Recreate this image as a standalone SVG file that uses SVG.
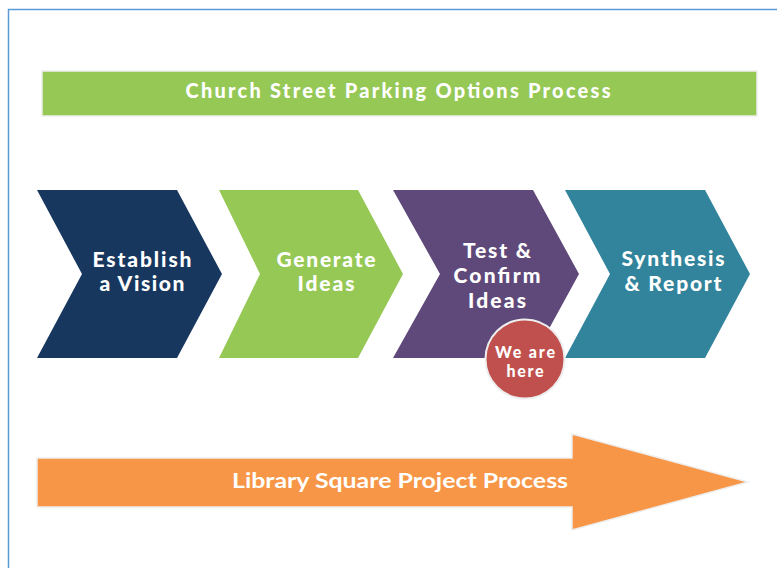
<svg xmlns="http://www.w3.org/2000/svg" width="777" height="568" viewBox="0 0 777 568">
<style>
.t{font-family:Lato,"Open Sans","Liberation Sans",sans-serif;font-weight:900;fill:#fff;text-anchor:middle}
.s{font-size:21px}
.h{font-size:20px}
.c{font-size:16px}
.l{font-size:21px;font-weight:bold}
</style>
<rect width="777" height="568" fill="#fff"/>
<path d="M8.5,568 V9.5 H777" fill="none" stroke="#5B9BD5" stroke-width="1.5"/>
<g id="title">
<rect x="42" y="71" width="715" height="45" fill="#95C855" stroke="#EEEEEE" stroke-width="1.5"/>
<text class="t h" x="398" y="98" textLength="425" lengthAdjust="spacing">Church Street Parking Options Process</text>
</g>
<g id="step1">
<polygon points="37,190 177,190 222,274 177,358 37,358 82,274" fill="#17375E"/>
<text class="t s" x="142" y="267" textLength="99" lengthAdjust="spacing">Establish</text>
<text class="t s" x="142" y="291" textLength="85" lengthAdjust="spacing">a Vision</text>
</g>
<g id="step2">
<polygon points="219,190 358,190 403,274 358,358 219,358 260,274" fill="#95C855"/>
<text class="t s" x="326" y="267" textLength="99" lengthAdjust="spacing">Generate</text>
<text class="t s" x="326" y="291" textLength="57" lengthAdjust="spacing">Ideas</text>
</g>
<g id="step3">
<polygon points="393,190 533,190 579,274 533,358 393,358 440,274" fill="#5F497A"/>
<text class="t s" x="497" y="258" textLength="68" lengthAdjust="spacing">Test &amp;</text>
<text class="t s" x="497" y="283" textLength="87" lengthAdjust="spacing">Confirm</text>
<text class="t s" x="497" y="308" textLength="58" lengthAdjust="spacing">Ideas</text>
</g>
<g id="step4">
<polygon points="565,190 705,190 750,274 705,358 565,358 610,274" fill="#31849B"/>
<text class="t s" x="673" y="266" textLength="103" lengthAdjust="spacing">Synthesis</text>
<text class="t s" x="673" y="291" textLength="97" lengthAdjust="spacing">&amp; Report</text>
</g>
<g id="marker">
<circle cx="525" cy="359" r="39.5" fill="#C0504D" stroke="#EEEEEE" stroke-width="2"/>
<text class="t c" x="525" y="358" textLength="60" lengthAdjust="spacing">We are</text>
<text class="t c" x="525" y="377" textLength="37" lengthAdjust="spacing">here</text>
</g>
<g id="library">
<polygon points="37,458 572,458 572,434 748,482 572,530 572,507 37,507" fill="#F79646" stroke="#EEEEEE" stroke-width="1.5"/>
<text class="t l" x="400" y="488" textLength="336" lengthAdjust="spacingAndGlyphs">Library Square Project Process</text>
</g>
<g id="connectors"/>
</svg>
